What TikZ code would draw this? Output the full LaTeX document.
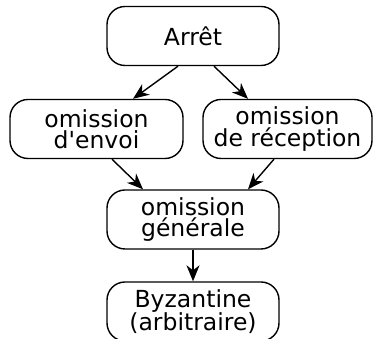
\documentclass[tikz,border=0pt]{standalone}
\usepackage{fontspec}
\setmainfont{DejaVu Sans}
\usetikzlibrary{arrows.meta}
\begin{document}
\begin{tikzpicture}[x=1pt,y=1pt,
  box/.style={draw,line width=1.4pt,rounded corners=18pt,minimum height=59pt,
    align=center,inner sep=0pt,font=\fontsize{23.5}{21.5}\selectfont},
  arr/.style={line width=1.4pt,-{Stealth[length=16pt,width=13pt,inset=5pt]}}]
\useasboundingbox (0,0) rectangle (375,339);
\node[box,minimum width=172pt] (arret) at (193,303) {Arrêt};
\node[box,minimum width=173pt] (envoi) at (96.5,210) {omission\\d\textquotesingle envoi};
\node[box,minimum width=169pt] (recep) at (287.5,210) {omission\\de réception};
\node[box,minimum width=172pt] (gen) at (193,119.5) {omission\\générale};
\node[box,minimum width=172pt] (byz) at (193,27.5) {Byzantine\\(arbitraire)};
\draw[arr] ([xshift=-15pt]arret.south) -- ([xshift=36.5pt]envoi.north);
\draw[arr] ([xshift=21pt]arret.south) -- ([xshift=-39.5pt]recep.north);
\draw[arr] ([xshift=15.5pt]envoi.south) -- ([xshift=-50pt]gen.north);
\draw[arr] ([xshift=-13.5pt]recep.south) -- ([xshift=55pt]gen.north);
\draw[arr] (gen.south) -- (byz.north);
\end{tikzpicture}
\end{document}
